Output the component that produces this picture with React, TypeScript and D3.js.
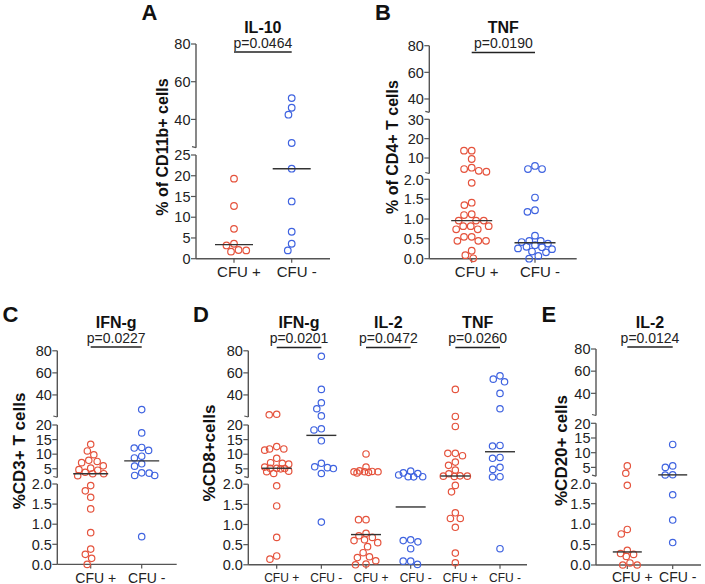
import React from 'react';
import * as d3 from 'd3';

// ---------- DATA ----------
const groupLabels = ['CFU +', 'CFU -'];

// A: IL-10, % of CD11b+ cells
const aIL10Pos = [19.3, 12.7, 7.2, 3.6, 3.2, 2.1, 1.7, 2.0];
const aIL10Neg = [51.3, 46.2, 42.5, 27.5, 21.7, 13.8, 6.5, 3.6, 2.0];

// B: TNF, % of CD4+ T cells
const bTNFPos = [13.8, 13.8, 9.5, 5.0, 4.3, 3.4, 2.9, 1.91, 1.41, 1.35, 1.12, 1.10, 0.96, 0.96, 0.96,
  0.82, 0.82, 0.82, 0.74, 0.74, 0.55, 0.55, 0.45, 0.45, 0.45, 0.20, 0.09, 0.01];
const bTNFNeg = [5.9, 4.3, 4.3, 1.54, 1.22, 1.18, 0.58, 0.45, 0.45, 0.42, 0.38, 0.34, 0.30, 0.29,
  0.26, 0.24, 0.18, 0.16, 0.07, 0.0];

// C: IFN-g, %CD3+ T cells
const cIFNPos = [13.4, 11.1, 9.8, 7.9, 7.5, 7.1, 6.0, 5.2, 4.7, 4.5, 3.8, 3.3, 3.3, 2.6, 1.96, 1.83,
  1.67, 1.38, 0.79, 0.38, 0.25, 0.15, 0.0];
const cIFNNeg = [26.7, 17.3, 12.3, 12.1, 11.3, 9.3, 8.7, 6.7, 5.9, 3.6, 3.5, 2.7, 2.7, 0.69];

// D: %CD8+cells
const dIFNPos = [22.5, 22.0, 12.6, 11.8, 11.8, 11.4, 8.6, 7.1, 6.9, 6.6, 5.6, 5.2, 5.2, 5.1, 5.0,
  4.2, 4.0, 3.4, 1.96, 1.46, 0.68, 0.22, 0.14];
const dIFNNeg = [75, 45, 32.9, 27.5, 21, 18.7, 18.3, 14.6, 6.9, 5.7, 5.4, 5.1, 3.4, 1.06];
const dIL2Pos = [10.1, 5.6, 4.3, 4.1, 4.0, 4.0, 4.0, 3.8, 3.6, 1.12, 1.12, 0.78, 0.72, 0.68, 0.62,
  0.6, 0.55, 0.45, 0.3, 0.2, 0.18, 0.1, 0.02, 0.0];
const dIL2Neg = [4.2, 3.6, 3.4, 2.9, 2.3, 2.3, 2.25, 0.62, 0.6, 0.57, 0.4, 0.09, 0.09, 0.01];
const dTNFPos = [45, 20.5, 19.5, 10.3, 10.3, 9.5, 7.3, 6.2, 4.6, 3.3, 2.6, 2.5, 2.5, 2.4, 1.97, 1.81,
  1.29, 1.15, 1.15, 0.93, 0.29, 0.05];
const dTNFNeg = [57.3, 54.3, 51.9, 41.4, 27.5, 13.0, 12.8, 8.9, 8.6, 5.5, 4.8, 2.3, 2.2, 0.4];

// E: IL-2, %CD20+ cells
const eIL2Pos = [5.5, 3.0, 1.95, 0.87, 0.76, 0.36, 0.28, 0.26, 0.21, 0.05, 0.0, 0.0];
const eIL2Neg = [12.8, 5.5, 5.0, 2.5, 2.4, 1.72, 1.1, 0.55];

const pValuesA = [0.0464];
const pValuesB = [0.0190];
const pValuesC = [0.0227];
const pValuesD = [0.0201, 0.0472, 0.0260];
const pValuesE = [0.0124];

const ticksTop = [40, 60, 80];
const ticksA = [0, 5, 10, 15, 20, 25];
const ticksFrac = [0, 0.5, 1.0, 1.5, 2.0];
const ticksMidB = [10, 20, 30];
const ticksMidC = [5, 10, 15, 20];

// ---------- STYLE ----------
const RED = '#e5533d';
const BLUE = '#3f63e0';
const AXIS = '#555';
const FONT = '"Liberation Sans", Arial, Helvetica, sans-serif';

type Seg = { lo: number; hi: number; y0: number; y1: number; ticks: number[]; fmt: (v: number) => string };
type Test = { title: string; p: number; a: number; b: number };
type Panel = {
  letter: string; lx: number; ly: number;
  yLabel: string; ylx: number; yly: number; ylSize: number;
  axisX: number; xEnd: number; gx0: number; gx1: number;
  groups: { values: number[]; color: string; label: string }[];
  segs: Seg[]; tests: Test[];
  titleY: number; pY: number; lineY: number;
  xLabelY: number; xLabelSize: number; medW: number; r: number; maxHalf: number;
};

const fInt = d3.format('d');
const f1 = d3.format('.1f');
const pf = (p: number) => 'p=' + d3.format('.4f')(p);

function pairs(vals: number[][], labels: string[]) {
  return vals.map((v, i) => ({ values: v, color: i % 2 === 0 ? RED : BLUE, label: labels[i % 2] }));
}

const segsBottom = (y0: number, y2: number, m0: number, m20: number, t20: number, t80: number): Seg[] => [
  { lo: 0, hi: 2, y0, y1: y2, ticks: ticksFrac, fmt: f1 },
  { lo: 2, hi: 20, y0: m0, y1: m20, ticks: ticksMidC, fmt: fInt },
  { lo: 20, hi: 80, y0: t20, y1: t80, ticks: ticksTop, fmt: fInt },
];

const panels: Panel[] = [
  {
    letter: 'A', lx: 141.5, ly: 20, yLabel: '% of CD11b+ cells', ylx: 168, yly: 147, ylSize: 16,
    axisX: 196, xEnd: 330, gx0: 234, gx1: 291.7,
    groups: pairs([aIL10Pos, aIL10Neg], groupLabels),
    segs: [
      { lo: 0, hi: 25, y0: 258.7, y1: 155, ticks: ticksA, fmt: fInt },
      { lo: 25, hi: 80, y0: 147.7, y1: 44, ticks: ticksTop, fmt: fInt },
    ],
    tests: [{ title: 'IL-10', p: pValuesA[0], a: 0, b: 1 }],
    titleY: 32.5, pY: 48.3, lineY: 52, xLabelY: 277, xLabelSize: 15, medW: 38, r: 3.3, maxHalf: 13,
  },
  {
    letter: 'B', lx: 375, ly: 20, yLabel: '% of CD4+ T cells', ylx: 398, yly: 147, ylSize: 16,
    axisX: 429.3, xEnd: 576.7, gx0: 471.7, gx1: 535,
    groups: pairs([bTNFPos, bTNFNeg], groupLabels),
    segs: [
      { lo: 0, hi: 2, y0: 258.7, y1: 179.3, ticks: ticksFrac, fmt: f1 },
      { lo: 2, hi: 30, y0: 173.5, y1: 119.3, ticks: ticksMidB, fmt: fInt },
      { lo: 30, hi: 80, y0: 112.3, y1: 45.7, ticks: ticksTop, fmt: fInt },
    ],
    tests: [{ title: 'TNF', p: pValuesB[0], a: 0, b: 1 }],
    titleY: 32.5, pY: 48.3, lineY: 52.5, xLabelY: 277, xLabelSize: 15, medW: 41, r: 3.3, maxHalf: 17,
  },
  {
    letter: 'C', lx: 2.5, ly: 321.5, yLabel: '%CD3+ T cells', ylx: 25, yly: 451, ylSize: 17,
    axisX: 57.3, xEnd: 176.7, gx0: 90.7, gx1: 141.7,
    groups: pairs([cIFNPos, cIFNNeg], groupLabels),
    segs: segsBottom(564.4, 484, 477.5, 425, 417, 350.8),
    tests: [{ title: 'IFN-g', p: pValuesC[0], a: 0, b: 1 }],
    titleY: 328, pY: 343, lineY: 347, xLabelY: 582.5, xLabelSize: 14, medW: 35, r: 3.2, maxHalf: 13,
  },
  {
    letter: 'D', lx: 193, ly: 321.5, yLabel: '%CD8+cells', ylx: 215, yly: 453, ylSize: 17,
    axisX: 248.3, xEnd: 527, gx0: 276.7, gx1: 500,
    groups: pairs([dIFNPos, dIFNNeg, dIL2Pos, dIL2Neg, dTNFPos, dTNFNeg], groupLabels),
    segs: segsBottom(564.8, 484.2, 477.6, 425, 417, 350.8),
    tests: [
      { title: 'IFN-g', p: pValuesD[0], a: 0, b: 1 },
      { title: 'IL-2', p: pValuesD[1], a: 2, b: 3 },
      { title: 'TNF', p: pValuesD[2], a: 4, b: 5 },
    ],
    titleY: 328, pY: 343, lineY: 347.5, xLabelY: 582, xLabelSize: 12, medW: 30, r: 3.2, maxHalf: 12,
  },
  {
    letter: 'E', lx: 541.5, ly: 321.5, yLabel: '%CD20+ cells', ylx: 566.5, yly: 450.5, ylSize: 17,
    axisX: 596, xEnd: 701, gx0: 627.3, gx1: 672.7,
    groups: pairs([eIL2Pos, eIL2Neg], groupLabels),
    segs: segsBottom(565, 483.3, 476.2, 423.3, 415.5, 349),
    tests: [{ title: 'IL-2', p: pValuesE[0], a: 0, b: 1 }],
    titleY: 328, pY: 343, lineY: 347, xLabelY: 582, xLabelSize: 14, medW: 29, r: 3.2, maxHalf: 12,
  },
];

function makeY(segs: Seg[]) {
  const scales = segs.map((s) => d3.scaleLinear().domain([s.lo, s.hi]).range([s.y0, s.y1]));
  return (v: number) => {
    for (let i = 0; i < segs.length; i++) {
      if (v <= segs[i].hi || i === segs.length - 1) return scales[i](v);
    }
    return scales[scales.length - 1](v);
  };
}

// bounded beeswarm: avoid overlaps within +-maxHalf, otherwise spread as evenly as possible
function dodge(ys: number[], minDist: number, maxHalf: number): number[] {
  const idx = ys.map((_, i) => i).sort((a, b) => ys[a] - ys[b]);
  const xs = new Array(ys.length).fill(0);
  const placed: number[] = [];
  for (const i of idx) {
    const y = ys[i];
    const blocks: [number, number][] = [];
    for (const j of placed) {
      const dy = Math.abs(ys[j] - y);
      if (dy < minDist) {
        const w = Math.sqrt(minDist * minDist - dy * dy);
        blocks.push([xs[j] - w, xs[j] + w]);
      }
    }
    const cands = [0, ...blocks.flatMap((b) => [b[0], b[1]])]
      .filter((c) => Math.abs(c) <= maxHalf + 1e-6)
      .sort((a, b) => Math.abs(a) - Math.abs(b) || a - b);
    let found = false;
    for (const c of cands) {
      if (!blocks.some((b) => c > b[0] + 1e-6 && c < b[1] - 1e-6)) {
        xs[i] = c;
        found = true;
        break;
      }
    }
    if (!found) {
      let best = 0;
      let bestD = -1;
      for (let c = -maxHalf; c <= maxHalf + 1e-6; c += 0.5) {
        let dmin = Infinity;
        for (const j of placed) {
          const d = Math.hypot(xs[j] - c, ys[j] - y);
          if (d < dmin) dmin = d;
        }
        if (dmin > bestD + 1e-6 || (Math.abs(dmin - bestD) < 1e-6 && Math.abs(c) < Math.abs(best))) {
          bestD = dmin;
          best = c;
        }
      }
      xs[i] = best;
    }
    placed.push(i);
  }
  return xs;
}

function PanelView({ p }: { p: Panel }) {
  const y = makeY(p.segs);
  const x = d3.scaleLinear().domain([0, p.groups.length - 1]).range([p.gx0, p.gx1]);
  const base = p.segs[0].y0;
  return (
    <g>
      <text x={p.lx} y={p.ly} fontSize={22} fontWeight="bold" fill="#111">{p.letter}</text>
      <text
        transform={`translate(${p.ylx},${p.yly}) rotate(-90)`}
        textAnchor="middle" fontSize={p.ylSize} fontWeight="bold" fill="#111"
      >{p.yLabel}</text>
      {p.segs.map((s, si) => (
        <g key={si}>
          <line x1={p.axisX} x2={p.axisX} y1={s.y0} y2={s.y1} stroke={AXIS} strokeWidth={1.4} />
          {si > 0 && (
            <line x1={p.axisX - 4} x2={p.axisX} y1={s.y0 - 1} y2={s.y0} stroke={AXIS} strokeWidth={1.2} />
          )}
          {s.ticks.map((t) => (
            <g key={t}>
              <line x1={p.axisX - 5} x2={p.axisX} y1={y(t)} y2={y(t)} stroke={AXIS} strokeWidth={1.2} />
              <text x={p.axisX - 5.5} y={y(t)} dy="0.36em" textAnchor="end" fontSize={14.5} fill="#222">
                {s.fmt(t)}
              </text>
            </g>
          ))}
        </g>
      ))}
      <line x1={p.axisX} x2={p.xEnd} y1={base} y2={base} stroke={AXIS} strokeWidth={1.4} />
      {p.groups.map((g, gi) => (
        <g key={gi}>
          <line x1={x(gi)} x2={x(gi)} y1={base} y2={base + 4} stroke={AXIS} strokeWidth={1.2} />
          <text x={x(gi) + 5} y={p.xLabelY} textAnchor="middle" fontSize={p.xLabelSize} fill="#222">
            {g.label}
          </text>
        </g>
      ))}
      {p.groups.map((g, gi) => {
        const ys = g.values.map(y);
        const xs = dodge(ys, 2 * p.r + 1.1, p.maxHalf);
        const med = d3.median(g.values) as number;
        return (
          <g key={'pts' + gi}>
            {g.values.map((_, k) => (
              <circle key={k} cx={x(gi) + xs[k]} cy={ys[k]} r={p.r} fill="none" stroke={g.color} strokeWidth={1.2} />
            ))}
            <line x1={x(gi) - p.medW / 2} x2={x(gi) + p.medW / 2} y1={y(med)} y2={y(med)} stroke="#333" strokeWidth={1.4} />
          </g>
        );
      })}
      {p.tests.map((t, ti) => {
        const cx = (x(t.a) + x(t.b)) / 2;
        return (
          <g key={'t' + ti}>
            <text x={cx} y={p.titleY} textAnchor="middle" fontSize={16} fontWeight="bold" fill="#111">{t.title}</text>
            <text x={cx} y={p.pY} textAnchor="middle" fontSize={14} fill="#222">{pf(t.p)}</text>
            <line x1={x(t.a)} x2={x(t.b)} y1={p.lineY} y2={p.lineY} stroke="#222" strokeWidth={1.4} />
          </g>
        );
      })}
    </g>
  );
}

export default function App() {
  return (
    <svg
      width={705}
      height={584}
      style={{ position: 'absolute', left: 0, top: 0, background: '#fff' }}
      fontFamily={FONT}
    >
      <rect width={705} height={584} fill="#fff" />
      {panels.map((p) => (
        <PanelView key={p.letter} p={p} />
      ))}
    </svg>
  );
}
